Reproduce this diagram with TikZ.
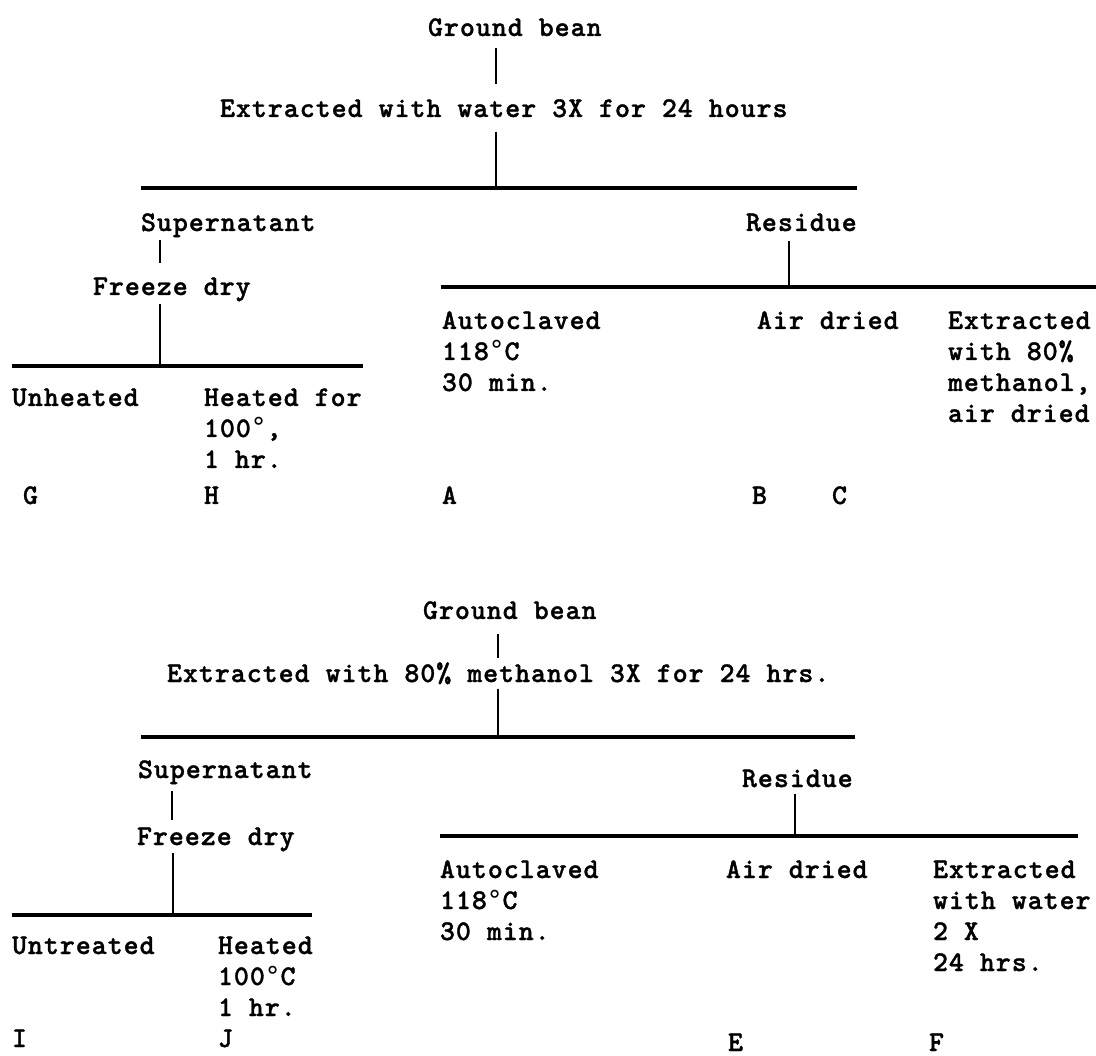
\documentclass[tikz,border=0pt]{standalone}
\usepackage{fontspec}
\newfontfamily\tw[LetterSpace=3.5,FakeBold=1.2]{lmmonolt10-bold.otf}
\newfontfamily\dgfont{DejaVu Sans Mono}
\newcommand\degr{{\dgfont\fontsize{26}{31}\selectfont °}}
\tikzset{
  lbl/.style={anchor=base west, inner sep=0pt, outer sep=0pt, text=black,
              font=\tw\fontsize{28.5}{31}\selectfont},
  hbar/.style={line width=3.4pt, black},
  vbar/.style={line width=2.6pt, black},
}
\begin{document}
\begin{tikzpicture}[x=1pt,y=-1pt]
\fill[white] (0,0) rectangle (1096,1056);
\useasboundingbox (0,0) rectangle (1096,1056);

% ---------------- top tree ----------------
\node[lbl] (gb1) at (428,36) {Ground bean};
\coordinate (b1a) at (496,48); \coordinate (b1b) at (496,84);
\node[lbl] (ex1) at (220,117) {Extracted with water 3X for 24 hours};
\coordinate (b2a) at (496,132); \coordinate (j1) at (496,188);
\coordinate (h1L) at (141,188); \coordinate (h1R) at (857,188);

\node[lbl] (sup1) at (141,231) {Supernatant};
\coordinate (b3a) at (160,240); \coordinate (b3b) at (160,263);
\node[lbl] (fd1) at (93,295) {Freeze dry};
\coordinate (b4a) at (160,304); \coordinate (j2) at (160,366);
\coordinate (h2L) at (12,366); \coordinate (h2R) at (363,366);
\node[lbl] (unh) at (12,406) {Unheated};
\node[lbl] (hf1) at (204,406) {Heated for};
\node[lbl] (hf2) at (204,437) {100\degr,};
\node[lbl] (hf3) at (204,468) {1 hr.};
\node[lbl] (G) at (23,504) {G};
\node[lbl] (H) at (204,504) {H};

\node[lbl] (res1) at (746,231) {Residue};
\coordinate (b5a) at (789,241); \coordinate (j3) at (789,287);
\coordinate (h3L) at (441,287); \coordinate (h3R) at (1096,287);
\node[lbl] (ac1) at (442,329) {Autoclaved};
\node[lbl] (ac2) at (442,360) {118\degr C};
\node[lbl] (ac3) at (442,391) {30 min.};
\node[lbl] (ad1) at (757,329) {Air dried};
\node[lbl] (em1) at (948,329) {Extracted};
\node[lbl] (em2) at (948,360) {with 80\%};
\node[lbl] (em3) at (948,391) {methanol,};
\node[lbl] (em4) at (948,422) {air dried};
\node[lbl] (A) at (442,504) {A};
\node[lbl] (B) at (752,504) {B};
\node[lbl] (C) at (832,504) {C};

\draw[vbar] (b1a) -- (b1b);
\draw[vbar] (b2a) -- (j1);
\draw[hbar] (h1L) -- (h1R);
\draw[vbar] (b3a) -- (b3b);
\draw[vbar] (b4a) -- (j2);
\draw[hbar] (h2L) -- (h2R);
\draw[vbar] (b5a) -- (j3);
\draw[hbar] (h3L) -- (h3R);

% ---------------- bottom tree ----------------
\node[lbl] (gb2) at (423,619) {Ground bean};
\coordinate (b6a) at (498,634); \coordinate (b6b) at (498,658);
\node[lbl] (ex2) at (167,682) {Extracted with 80\% methanol 3X for 24 hrs.};
\coordinate (b7a) at (498,689); \coordinate (j4) at (498,737);
\coordinate (h4L) at (141,737); \coordinate (h4R) at (855,737);

\node[lbl] (sup2) at (138,778) {Supernatant};
\coordinate (b8a) at (172,791); \coordinate (b8b) at (172,820);
\node[lbl] (fd2) at (137,845) {Freeze dry};
\coordinate (b9a) at (173,853); \coordinate (j5) at (173,915);
\coordinate (h5L) at (12,915); \coordinate (h5R) at (312,915);
\node[lbl] (unt) at (12,954) {Untreated};
\node[lbl] (ht1) at (218,954) {Heated};
\node[lbl] (ht2) at (218,985) {100\degr C};
\node[lbl] (ht3) at (218,1016) {1 hr.};
\node[lbl] (I) at (12,1047) {I};
\node[lbl] (J) at (218,1047) {J};

\node[lbl] (res2) at (742,787) {Residue};
\coordinate (b10a) at (795,794); \coordinate (j6) at (795,836);
\coordinate (h6L) at (440,836); \coordinate (h6R) at (1078,836);
\node[lbl] (bc1) at (440,878) {Autoclaved};
\node[lbl] (bc2) at (440,909) {118\degr C};
\node[lbl] (bc3) at (440,940) {30 min.};
\node[lbl] (ad2) at (726,878) {Air dried};
\node[lbl] (ew1) at (933,878) {Extracted};
\node[lbl] (ew2) at (933,909) {with water};
\node[lbl] (ew3) at (933,940) {2 X};
\node[lbl] (ew4) at (933,971) {24 hrs.};
\node[lbl] (E) at (728,1051) {E};
\node[lbl] (F) at (929,1051) {F};

\draw[vbar] (b6a) -- (b6b);
\draw[vbar] (b7a) -- (j4);
\draw[hbar] (h4L) -- (h4R);
\draw[vbar] (b8a) -- (b8b);
\draw[vbar] (b9a) -- (j5);
\draw[hbar] (h5L) -- (h5R);
\draw[vbar] (b10a) -- (j6);
\draw[hbar] (h6L) -- (h6R);
\end{tikzpicture}
\end{document}
